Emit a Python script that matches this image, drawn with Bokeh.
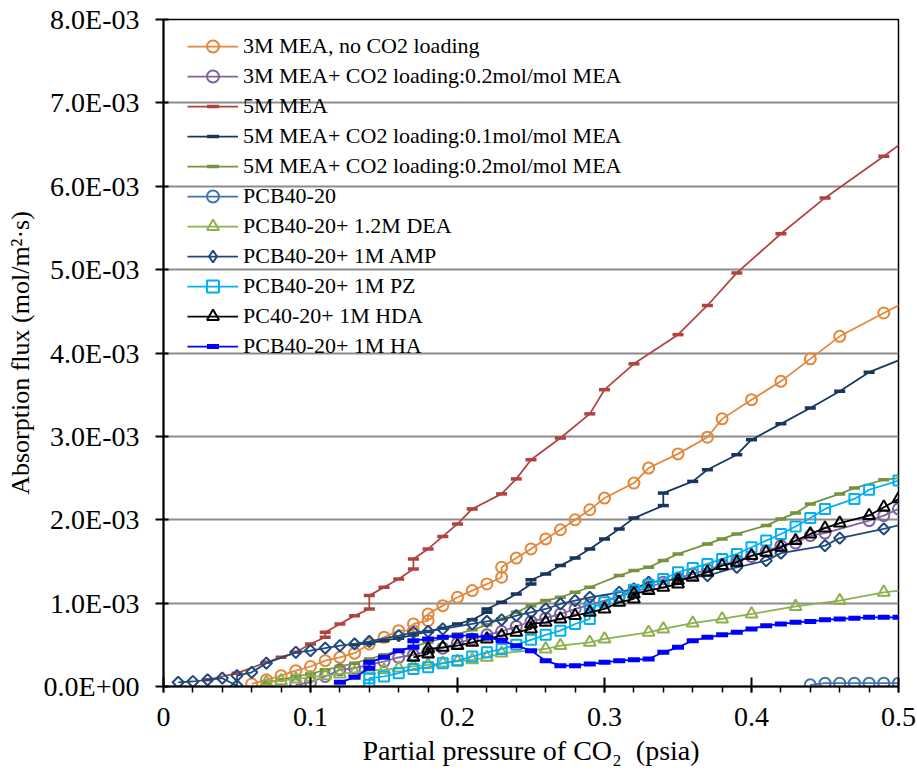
import numpy as np
from bokeh.plotting import figure
from bokeh.models import (FixedTicker, CustomJSTickFormatter, Legend, LegendItem,
                          Range1d, ColumnDataSource)
from bokeh.embed import file_html
from bokeh.resources import INLINE

# Flux values are listed in units of 1E-03 mol/(m2·s)
SCALE = 1e-3

# ---- data -------------------------------------------------------------
x_3m_mea = [0.06, 0.07, 0.08, 0.09, 0.10, 0.11, 0.12, 0.13, 0.14, 0.15, 0.16, 0.17, 0.17,
            0.18, 0.18, 0.19, 0.20, 0.21, 0.22, 0.23, 0.23, 0.24, 0.25, 0.26, 0.27, 0.28,
            0.29, 0.30, 0.32, 0.33, 0.35, 0.37, 0.38, 0.40, 0.42, 0.44, 0.46, 0.49, 0.51]
y_3m_mea = [0.03, 0.08, 0.13, 0.19, 0.24, 0.31, 0.35, 0.40, 0.51, 0.59, 0.67, 0.67, 0.75,
            0.79, 0.87, 0.97, 1.07, 1.15, 1.23, 1.31, 1.43, 1.54, 1.65, 1.77, 1.88, 2.00,
            2.12, 2.26, 2.44, 2.62, 2.79, 2.99, 3.21, 3.44, 3.66, 3.93, 4.20, 4.48, 4.66]

x_3m_mea_l02 = [0.09, 0.10, 0.11, 0.12, 0.13, 0.14, 0.15, 0.16, 0.17, 0.18, 0.19, 0.20, 0.21,
                0.22, 0.23, 0.24, 0.25, 0.26, 0.27, 0.28, 0.29, 0.30, 0.31, 0.32, 0.33, 0.34,
                0.35, 0.36, 0.37, 0.38, 0.39, 0.40, 0.41, 0.42, 0.43, 0.44, 0.45, 0.48, 0.49, 0.50]
y_3m_mea_l02 = [0.02, 0.05, 0.12, 0.20, 0.22, 0.26, 0.30, 0.35, 0.38, 0.42, 0.46, 0.52, 0.57,
                0.62, 0.66, 0.72, 0.78, 0.82, 0.87, 0.93, 0.98, 1.03, 1.08, 1.13, 1.19, 1.25,
                1.30, 1.35, 1.40, 1.46, 1.51, 1.56, 1.62, 1.69, 1.72, 1.81, 1.84, 1.99, 2.05, 2.13]

x_5m_mea = [0.03, 0.05, 0.07, 0.08, 0.09, 0.10, 0.11, 0.11, 0.12, 0.13, 0.14, 0.14, 0.15,
            0.16, 0.17, 0.17, 0.18, 0.19, 0.20, 0.21, 0.23, 0.24, 0.25, 0.27, 0.29, 0.30,
            0.32, 0.35, 0.37, 0.39, 0.42, 0.45, 0.49, 0.51]
y_5m_mea = [0.08, 0.16, 0.29, 0.35, 0.41, 0.51, 0.59, 0.65, 0.75, 0.85, 0.93, 1.09, 1.19,
            1.29, 1.41, 1.53, 1.65, 1.80, 1.95, 2.13, 2.31, 2.49, 2.72, 2.98, 3.27, 3.56,
            3.87, 4.22, 4.57, 4.96, 5.43, 5.86, 6.36, 6.62]

x_5m_mea_l01 = [0.13, 0.14, 0.15, 0.16, 0.17, 0.18, 0.19, 0.20, 0.21, 0.22, 0.22, 0.23, 0.24,
                0.25, 0.25, 0.26, 0.27, 0.28, 0.29, 0.30, 0.31, 0.32, 0.34, 0.34, 0.36, 0.37,
                0.39, 0.40, 0.42, 0.44, 0.46, 0.48, 0.51]
y_5m_mea_l01 = [0.50, 0.52, 0.55, 0.58, 0.62, 0.66, 0.70, 0.75, 0.80, 0.89, 0.93, 1.01, 1.11,
                1.23, 1.28, 1.35, 1.45, 1.54, 1.65, 1.77, 1.89, 2.02, 2.17, 2.32, 2.46, 2.60,
                2.78, 2.96, 3.15, 3.34, 3.54, 3.77, 3.98]

x_5m_mea_l02 = [0.07, 0.08, 0.09, 0.10, 0.11, 0.12, 0.13, 0.14, 0.15, 0.16, 0.17, 0.18, 0.19,
                0.20, 0.21, 0.22, 0.23, 0.24, 0.25, 0.26, 0.27, 0.28, 0.29, 0.31, 0.32, 0.33,
                0.34, 0.35, 0.37, 0.38, 0.39, 0.41, 0.42, 0.43, 0.44, 0.46, 0.47, 0.49, 0.51]
y_5m_mea_l02 = [0.05, 0.08, 0.12, 0.15, 0.20, 0.24, 0.28, 0.33, 0.38, 0.43, 0.48, 0.53, 0.58,
                0.63, 0.68, 0.74, 0.81, 0.89, 0.97, 1.03, 1.07, 1.13, 1.19, 1.33, 1.39, 1.43,
                1.51, 1.59, 1.71, 1.77, 1.83, 1.93, 2.01, 2.08, 2.19, 2.31, 2.38, 2.48, 2.52]

x_pcb = [0.44, 0.45, 0.46, 0.47, 0.48, 0.49, 0.50]
y_pcb = [0.02, 0.04, 0.04, 0.04, 0.04, 0.04, 0.04]

x_pcb_dea = [0.07, 0.08, 0.09, 0.10, 0.11, 0.12, 0.13, 0.14, 0.15, 0.16, 0.17, 0.18, 0.19,
             0.20, 0.21, 0.22, 0.23, 0.26, 0.27, 0.29, 0.30, 0.33, 0.34, 0.36, 0.38, 0.40,
             0.43, 0.46, 0.49, 0.51]
y_pcb_dea = [0.05, 0.07, 0.09, 0.11, 0.13, 0.15, 0.17, 0.19, 0.20, 0.22, 0.24, 0.26, 0.28,
             0.30, 0.32, 0.35, 0.40, 0.45, 0.49, 0.53, 0.57, 0.65, 0.69, 0.76, 0.81, 0.87,
             0.96, 1.03, 1.13, 1.17]

x_pcb_amp = [0.01, 0.02, 0.03, 0.04, 0.05, 0.05, 0.06, 0.07, 0.09, 0.10, 0.11, 0.12, 0.13,
             0.14, 0.16, 0.17, 0.18, 0.19, 0.21, 0.22, 0.23, 0.24, 0.25, 0.26, 0.27, 0.28,
             0.29, 0.31, 0.32, 0.33, 0.35, 0.37, 0.39, 0.41, 0.42, 0.45, 0.46, 0.49, 0.51]
y_pcb_amp = [0.05, 0.06, 0.08, 0.10, 0.01, 0.13, 0.17, 0.28, 0.41, 0.43, 0.46, 0.49, 0.51,
             0.54, 0.61, 0.65, 0.66, 0.69, 0.75, 0.78, 0.80, 0.85, 0.89, 0.93, 0.99, 1.03,
             1.07, 1.13, 1.17, 1.25, 1.29, 1.33, 1.43, 1.51, 1.60, 1.69, 1.78, 1.89, 1.98]

x_pcb_pz = [0.14, 0.14, 0.15, 0.16, 0.17, 0.18, 0.19, 0.20, 0.21, 0.22, 0.23, 0.24, 0.25,
            0.26, 0.27, 0.28, 0.29, 0.29, 0.30, 0.31, 0.32, 0.33, 0.34, 0.35, 0.36, 0.37,
            0.38, 0.39, 0.40, 0.41, 0.42, 0.43, 0.44, 0.45, 0.47, 0.48, 0.50]
y_pcb_pz = [0.02, 0.10, 0.12, 0.16, 0.21, 0.23, 0.28, 0.31, 0.36, 0.41, 0.45, 0.50, 0.56,
            0.62, 0.67, 0.75, 0.81, 0.93, 1.01, 1.08, 1.16, 1.22, 1.29, 1.37, 1.42, 1.47,
            1.53, 1.59, 1.67, 1.75, 1.83, 1.92, 2.02, 2.13, 2.25, 2.36, 2.47]

x_pc_hda = [0.17, 0.18, 0.18, 0.19, 0.20, 0.21, 0.22, 0.23, 0.24, 0.25, 0.25, 0.26, 0.27,
            0.28, 0.29, 0.30, 0.31, 0.32, 0.32, 0.33, 0.34, 0.35, 0.35, 0.36, 0.37, 0.38,
            0.39, 0.40, 0.41, 0.42, 0.43, 0.44, 0.45, 0.46, 0.48, 0.49, 0.50]
y_pc_hda = [0.35, 0.39, 0.45, 0.47, 0.49, 0.53, 0.57, 0.61, 0.65, 0.69, 0.75, 0.77, 0.81,
            0.85, 0.89, 0.93, 1.01, 1.05, 1.11, 1.15, 1.19, 1.23, 1.27, 1.31, 1.37, 1.45,
            1.49, 1.57, 1.61, 1.67, 1.75, 1.83, 1.90, 1.96, 2.05, 2.15, 2.25]

x_pcb_ha = [0.12, 0.13, 0.14, 0.14, 0.15, 0.16, 0.17, 0.17, 0.18, 0.19, 0.20, 0.21, 0.22,
            0.23, 0.24, 0.25, 0.26, 0.27, 0.28, 0.29, 0.30, 0.31, 0.32, 0.33, 0.34, 0.35,
            0.36, 0.37, 0.38, 0.39, 0.40, 0.41, 0.42, 0.43, 0.44, 0.45, 0.46, 0.47, 0.48,
            0.49, 0.50]
y_pcb_ha = [0.05, 0.11, 0.22, 0.29, 0.35, 0.43, 0.47, 0.55, 0.57, 0.59, 0.61, 0.61, 0.59,
            0.55, 0.49, 0.43, 0.31, 0.25, 0.25, 0.27, 0.29, 0.31, 0.32, 0.33, 0.41, 0.47,
            0.55, 0.59, 0.62, 0.65, 0.69, 0.73, 0.75, 0.77, 0.78, 0.80, 0.81, 0.82, 0.83,
            0.83, 0.83]

series_labels = [
    "3M MEA, no CO2 loading",
    "3M MEA+ CO2 loading:0.2mol/mol MEA",
    "5M MEA",
    "5M MEA+ CO2 loading:0.1mol/mol MEA",
    "5M MEA+ CO2 loading:0.2mol/mol MEA",
    "PCB40-20",
    "PCB40-20+ 1.2M DEA",
    "PCB40-20+ 1M AMP",
    "PCB40-20+ 1M PZ",
    "PC40-20+ 1M HDA",
    "PCB40-20+ 1M HA",
]
series_x = [x_3m_mea, x_3m_mea_l02, x_5m_mea, x_5m_mea_l01, x_5m_mea_l02, x_pcb,
            x_pcb_dea, x_pcb_amp, x_pcb_pz, x_pc_hda, x_pcb_ha]
series_y = [y_3m_mea, y_3m_mea_l02, y_5m_mea, y_5m_mea_l01, y_5m_mea_l02, y_pcb,
            y_pcb_dea, y_pcb_amp, y_pcb_pz, y_pc_hda, y_pcb_ha]

x_ticks = [0.0, 0.1, 0.2, 0.3, 0.4, 0.5]
y_ticks = [0.0, 1.0, 2.0, 3.0, 4.0, 5.0, 6.0, 7.0, 8.0]

# ---- styles: colour, marker, size, marker line width, angle, legend marker
styles = [
    ("#E3873A", "circle", 11, 2.0, 0.0, None),
    ("#7F62A1", "circle", 11, 2.0, 0.0, None),
    ("#B0433F", "dash", 11, 3.5, 0.0, None),
    ("#17365D", "dash", 11, 3.5, 0.0, None),
    ("#76923C", "dash", 11, 3.5, 0.0, None),
    ("#4573AC", "circle", 11, 2.0, 0.0, None),
    ("#8EB04E", "triangle", 12, 2.0, 0.0, None),
    ("#1F497D", "square", 8, 2.0, np.pi / 4, "diamond"),
    ("#00B0F0", "square", 10, 2.0, 0.0, None),
    ("#000000", "triangle", 12, 2.0, 0.0, None),
    ("#0000FF", "dash", 12, 5.0, 0.0, None),
]

FONT = "'Liberation Serif', 'Times New Roman', serif"

p = figure(width=917, height=775,
           min_border_left=163, min_border_right=19,
           min_border_top=19, min_border_bottom=89,
           x_range=Range1d(0, 0.5), y_range=Range1d(0, 8 * SCALE),
           output_backend="svg", toolbar_location=None,
           background_fill_color="white", border_fill_color="white")

p.outline_line_color = "black"
p.outline_line_width = 1.5

# axes
p.xaxis.ticker = FixedTicker(ticks=x_ticks,
                             minor_ticks=[round(i * 0.02, 2) for i in range(26)])
p.xaxis.formatter = CustomJSTickFormatter(
    code="return tick === 0 ? '0' : tick.toFixed(1);")
y_ticker = FixedTicker(ticks=[v * SCALE for v in y_ticks])
p.yaxis.ticker = y_ticker
p.yaxis.formatter = CustomJSTickFormatter(code="""
    const parts = tick.toExponential(1).split('e');
    const e = parseInt(parts[1]);
    const sign = e < 0 ? '-' : '+';
    return parts[0] + 'E' + sign + String(Math.abs(e)).padStart(2, '0');
""")

for ax in (p.xaxis[0], p.yaxis[0]):
    ax.axis_line_color = "black"
    ax.axis_line_width = 2
    ax.major_tick_line_color = "black"
    ax.major_tick_line_width = 2
    ax.minor_tick_line_color = "black"
    ax.minor_tick_line_width = 1.5
    ax.major_label_text_font = FONT
    ax.major_label_text_font_size = "28px"
    ax.major_label_text_color = "black"
    ax.axis_label_text_font = FONT
    ax.axis_label_text_font_style = "normal"
    ax.axis_label_text_color = "black"

p.xaxis.major_tick_in = 9
p.xaxis.major_tick_out = 6
p.xaxis.minor_tick_in = 0
p.xaxis.minor_tick_out = 6
p.xaxis.major_label_standoff = 15
p.xaxis.axis_label = "Partial pressure of CO\u2082\u00a0\u00a0(psia)"
p.xaxis.axis_label_text_font_size = "28px"
p.xaxis.axis_label_standoff = 6

p.yaxis.major_tick_in = 5
p.yaxis.major_tick_out = 8
p.yaxis.minor_tick_line_color = None
p.yaxis.major_label_standoff = 16
p.yaxis.axis_label = "Absorption flux (mol/m\u00b2\u00b7s)"
p.yaxis.axis_label_text_font_size = "26px"
p.yaxis.axis_label_standoff = 6

p.xgrid.visible = False
p.ygrid.ticker = y_ticker
p.ygrid.grid_line_color = "#8C8C8C"
p.ygrid.grid_line_width = 2

# series
items = []
for label, xs, ys, (color, marker, size, mlw, angle, key_marker) in zip(
        series_labels, series_x, series_y, styles):
    src = ColumnDataSource(data=dict(x=xs, y=[v * SCALE for v in ys]))
    ln = p.line("x", "y", source=src, line_color=color, line_width=1.75)
    mk = p.scatter("x", "y", source=src, marker=marker, size=size, angle=angle,
                   line_color=color, line_width=mlw, fill_color=None)
    key = [ln, mk]
    if key_marker is not None:
        # key-only glyph, parked outside the visible ranges, so the legend
        # shows an upright diamond outline
        key_src = ColumnDataSource(data=dict(x=[-1.0], y=[-1.0]))
        key = [ln, p.scatter("x", "y", source=key_src, marker=key_marker, size=size,
                             line_color=color, line_width=mlw, fill_color=None)]
    items.append(LegendItem(label=label, renderers=key))

legend = Legend(items=items, location=(15, 316), padding=9, margin=0, spacing=0,
                glyph_width=51, glyph_height=30, label_height=30, label_standoff=5,
                label_text_font=FONT, label_text_font_size="22px",
                label_text_color="black",
                background_fill_alpha=0, border_line_alpha=0)
p.add_layout(legend)

open("out.html", "w").write(file_html(p, INLINE))
